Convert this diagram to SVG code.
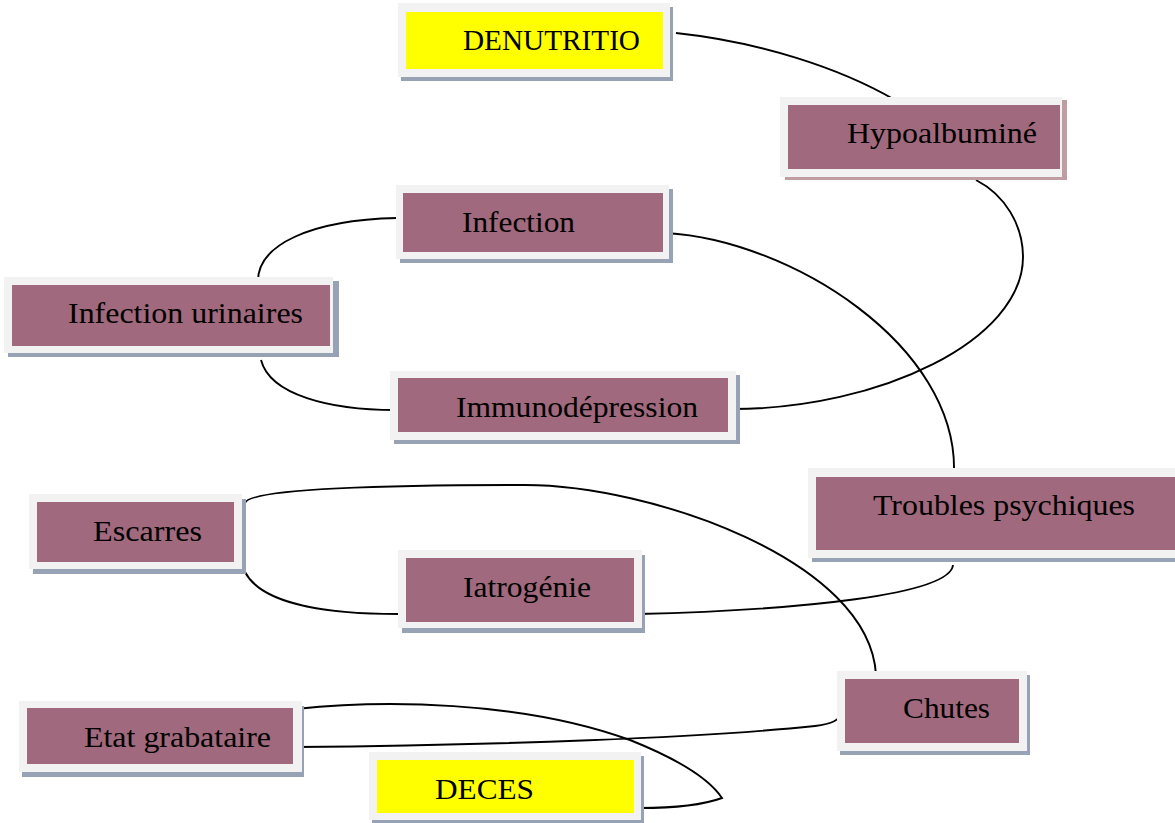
<svg xmlns="http://www.w3.org/2000/svg" width="1175" height="823" viewBox="0 0 1175 823">
<style>
.sh{fill:#97a3b4}
.shp{fill:#bf9ea3}
.fr{fill:#f2f2f2}
.in{fill:#a1697d}
.ye{fill:#ffff00}
.t{font-family:"Liberation Serif","Times New Roman",serif;font-size:30px;fill:#000}
.c{fill:none;stroke:#000;stroke-width:1.9}
</style>
<rect width="1175" height="823" fill="#fff"/>
<g id="connectors">
<path class="c" d="M 676 33 C 760 42, 840 68, 895 100"/>
<path class="c" d="M 976 180 C 1005 195, 1023 225, 1023 257 C 1023 340, 880 409, 732 409"/>
<path class="c" d="M 666 233 C 790 240, 958 345, 954 473"/>
<path class="c" d="M 397 218 C 310 220, 258 245, 258 281"/>
<path class="c" d="M 261 360 C 270 395, 330 410, 395 410"/>
<path class="c" d="M 245 503 C 250 488, 400 485, 525 485 C 650 485, 870 560, 876 675"/>
<path class="c" d="M 245 572 C 262 605, 330 614, 398 614"/>
<path class="c" d="M 638 614 C 800 610, 950 595, 953 565"/>
<path class="c" d="M 296 747 C 500 745, 700 738, 815 726 C 832 724, 840 720, 842 712"/>
<path class="c" d="M 296 709 C 380 700, 520 700, 630 740 C 680 760, 710 780, 722 798 C 700 806, 670 808, 640 808"/>
</g>
<g id="node-denutritio">
<rect class="sh" x="401" y="7" width="272" height="74"/>
<rect class="fr" x="398" y="3" width="272" height="74"/>
<rect class="ye" x="406" y="12" width="257" height="57"/>
<text class="t" x="463" y="50" textLength="177" lengthAdjust="spacingAndGlyphs">DENUTRITIO</text>
</g>
<g id="node-hypoalbumine">
<rect class="shp" x="785" y="100" width="282" height="80"/>
<rect class="fr" x="780" y="97" width="282" height="80"/>
<rect class="in" x="788" y="105" width="272" height="64"/>
<text class="t" x="847" y="143" textLength="190" lengthAdjust="spacingAndGlyphs">Hypoalbuminé</text>
</g>
<g id="node-infection">
<rect class="sh" x="400" y="189" width="273" height="74"/>
<rect class="fr" x="396" y="185" width="273" height="74"/>
<rect class="in" x="403" y="193" width="260" height="59"/>
<text class="t" x="462" y="232" textLength="113" lengthAdjust="spacingAndGlyphs">Infection</text>
</g>
<g id="node-infection-urinaires">
<rect class="sh" x="8" y="281" width="331" height="76"/>
<rect class="fr" x="4" y="277" width="329" height="76"/>
<rect class="in" x="12" y="285" width="318" height="61"/>
<text class="t" x="68" y="323" textLength="235" lengthAdjust="spacingAndGlyphs">Infection urinaires</text>
</g>
<g id="node-immunodepression">
<rect class="sh" x="394" y="375" width="346" height="69"/>
<rect class="fr" x="390" y="371" width="346" height="69"/>
<rect class="in" x="398" y="378" width="330" height="54"/>
<text class="t" x="456" y="417" textLength="242" lengthAdjust="spacingAndGlyphs">Immunodépression</text>
</g>
<g id="node-escarres">
<rect class="sh" x="33" y="499" width="213" height="75"/>
<rect class="fr" x="29" y="494" width="213" height="75"/>
<rect class="in" x="37" y="502" width="197" height="60"/>
<text class="t" x="93" y="541" textLength="109" lengthAdjust="spacingAndGlyphs">Escarres</text>
</g>
<g id="node-iatrogenie">
<rect class="sh" x="402" y="555" width="243" height="78"/>
<rect class="fr" x="398" y="550" width="244" height="78"/>
<rect class="in" x="406" y="558" width="228" height="64"/>
<text class="t" x="463" y="597" textLength="128" lengthAdjust="spacingAndGlyphs">Iatrogénie</text>
</g>
<g id="node-troubles-psychiques">
<rect class="sh" x="812" y="472" width="380" height="90"/>
<rect class="fr" x="808" y="468" width="380" height="90"/>
<rect class="in" x="816" y="477" width="370" height="73"/>
<text class="t" x="873" y="515" textLength="262" lengthAdjust="spacingAndGlyphs">Troubles psychiques</text>
</g>
<g id="node-chutes">
<rect class="sh" x="840" y="675" width="190" height="80"/>
<rect class="fr" x="837" y="671" width="190" height="80"/>
<rect class="in" x="845" y="679" width="174" height="64"/>
<text class="t" x="903" y="718" textLength="87" lengthAdjust="spacingAndGlyphs">Chutes</text>
</g>
<g id="node-etat-grabataire">
<rect class="sh" x="22" y="706" width="282" height="71"/>
<rect class="fr" x="19" y="701" width="283" height="71"/>
<rect class="in" x="27" y="708" width="266" height="56"/>
<text class="t" x="84" y="747" textLength="187" lengthAdjust="spacingAndGlyphs">Etat grabataire</text>
</g>
<g id="node-deces">
<rect class="sh" x="372" y="756" width="272" height="68"/>
<rect class="fr" x="369" y="752" width="272" height="68"/>
<rect class="ye" x="377" y="760" width="257" height="53"/>
<text class="t" x="435" y="799" textLength="99" lengthAdjust="spacingAndGlyphs">DECES</text>
</g>
</svg>
